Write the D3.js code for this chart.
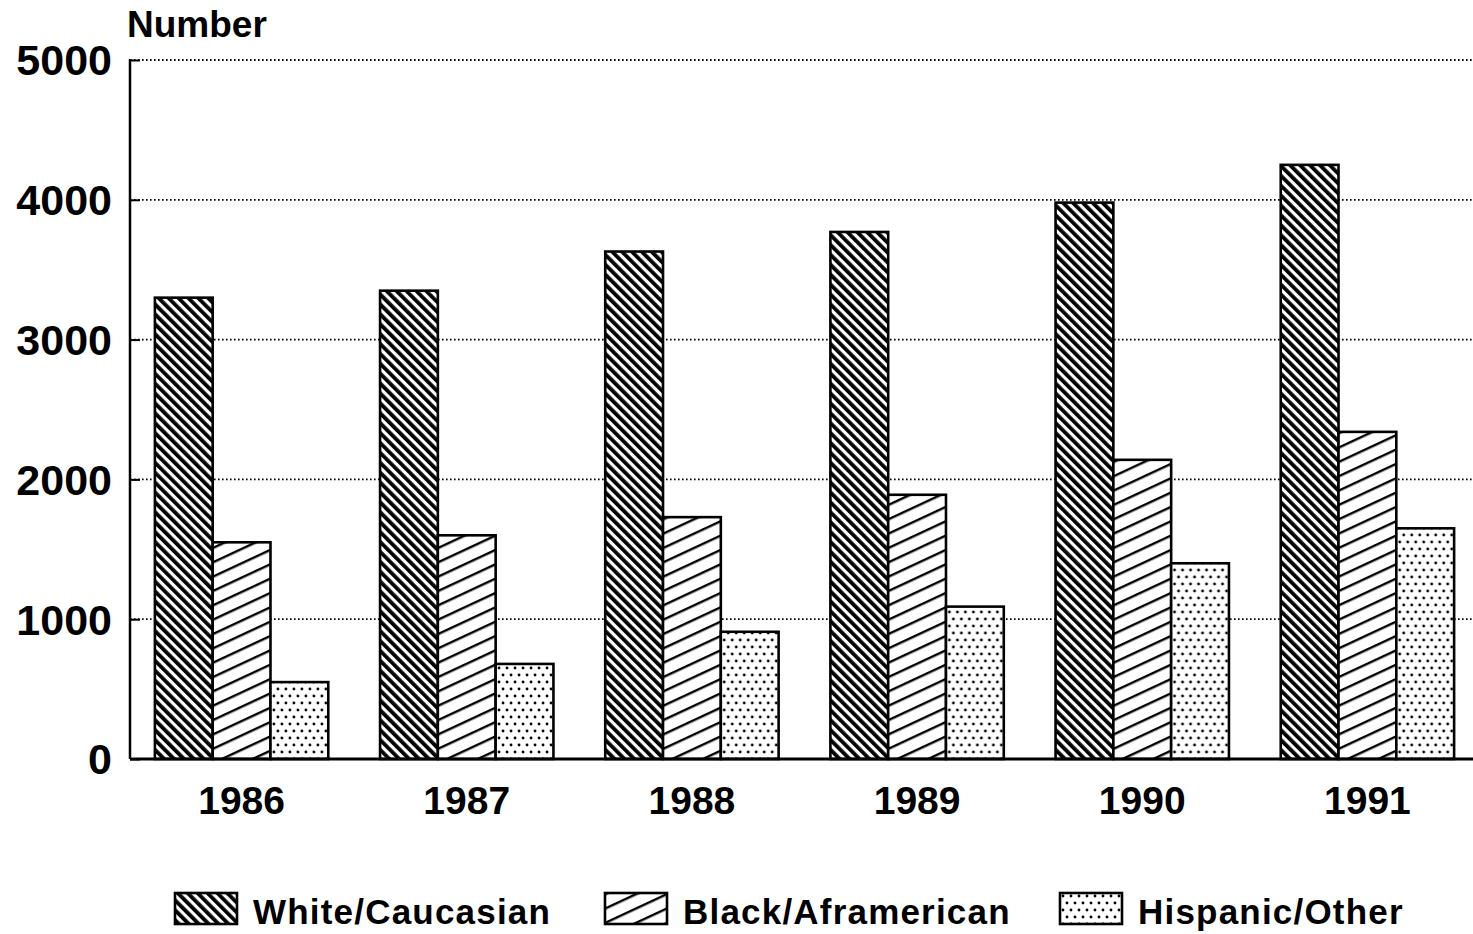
<!DOCTYPE html>
<html>
<head>
<meta charset="utf-8">
<script src="https://cdn.jsdelivr.net/npm/d3@7"></script>
<style>
  html, body { margin: 0; padding: 0; background: #fff; }
  svg { display: block; font-family: "Liberation Sans", Arial, sans-serif; font-weight: bold; }
</style>
</head>
<body>
<svg id="chart" width="1473" height="934"></svg>
<script>
// ---- data ----
const years = ["1986", "1987", "1988", "1989", "1990", "1991"];
const seriesNames = ["White/Caucasian", "Black/Aframerican", "Hispanic/Other"];
const white = [3300, 3350, 3630, 3770, 3980, 4250];
const black = [1550, 1600, 1730, 1890, 2140, 2340];
const hispanic = [550, 680, 910, 1090, 1400, 1650];
const yTicks = [0, 1000, 2000, 3000, 4000, 5000];
const yTitle = "Number";

const seriesValues = [white, black, hispanic];
const patternIds = ["patWhite", "patBlack", "patHisp"];

const svg = d3.select("#chart");
const defs = svg.append("defs");

// back-diagonal heavy hatch ("\")
const p1 = defs.append("pattern").attr("id", "patWhite").attr("patternUnits", "userSpaceOnUse")
  .attr("width", 7).attr("height", 7).attr("patternTransform", "rotate(-45)");
p1.append("rect").attr("width", 7).attr("height", 7).attr("fill", "#fff");
p1.append("rect").attr("x", 0).attr("y", 0).attr("width", 3.8).attr("height", 7).attr("fill", "#000");

// forward shallow hatch ("/")
const p2 = defs.append("pattern").attr("id", "patBlack").attr("patternUnits", "userSpaceOnUse")
  .attr("width", 13).attr("height", 13).attr("patternTransform", "rotate(-25)");
p2.append("rect").attr("width", 13).attr("height", 13).attr("fill", "#fff");
p2.append("rect").attr("x", 0).attr("y", 0).attr("width", 13).attr("height", 2.4).attr("fill", "#000");

// dots
const p3 = defs.append("pattern").attr("id", "patHisp").attr("patternUnits", "userSpaceOnUse")
  .attr("width", 16).attr("height", 14);
p3.append("rect").attr("width", 16).attr("height", 14).attr("fill", "#fff");
[[3, 3], [11, 3], [7, 10], [15, 10], [-1, 10]].forEach(([cx, cy]) => {
  p3.append("circle").attr("cx", cx).attr("cy", cy).attr("r", 1.4).attr("fill", "#000");
});

// ---- scales ----
const x0 = d3.scaleBand().domain(years).range([129, 1480]).paddingInner(0.23).paddingOuter(0.115);
const x1 = d3.scaleBand().domain(seriesNames).range([0, x0.bandwidth()]);
const y = d3.scaleLinear().domain([0, 5000]).range([759, 60]);
const plotLeft = 130, plotRight = 1473;

// gridlines (dotted)
svg.append("g").selectAll("line").data(yTicks.filter(d => d > 0)).join("line")
  .attr("x1", plotLeft).attr("x2", plotRight)
  .attr("y1", d => y(d)).attr("y2", d => y(d))
  .attr("stroke", "#000").attr("stroke-width", 1.8).attr("stroke-dasharray", "1.6,2.4");

// y axis with inward ticks
const yAxis = d3.axisRight(y).tickValues(yTicks).tickSize(10).tickFormat("");
const gy = svg.append("g").attr("transform", `translate(${plotLeft},0)`).call(yAxis);
gy.select(".domain").remove();
gy.selectAll(".tick line").attr("stroke", "#000").attr("stroke-width", 2);
svg.append("line").attr("x1", plotLeft).attr("x2", plotLeft).attr("y1", y(5000) - 1).attr("y2", y(0))
  .attr("stroke", "#000").attr("stroke-width", 2.5);

// y tick labels
svg.append("g").selectAll("text").data(yTicks).join("text")
  .attr("x", 112).attr("y", d => y(d)).attr("dy", "0.36em")
  .attr("text-anchor", "end").attr("font-size", 43).attr("fill", "#000")
  .text(d => d);

// y title
svg.append("text").attr("x", 127).attr("y", 37).attr("font-size", 37).attr("fill", "#000").text(yTitle);

// bars
const groups = svg.append("g").selectAll("g").data(years).join("g")
  .attr("transform", d => `translate(${x0(d)},0)`);
groups.selectAll("rect").data((d, i) => seriesNames.map((s, k) => ({ s, k, v: seriesValues[k][i] })))
  .join("rect")
  .attr("x", d => x1(d.s)).attr("width", x1.bandwidth())
  .attr("y", d => y(d.v)).attr("height", d => y(0) - y(d.v))
  .attr("fill", d => `url(#${patternIds[d.k]})`)
  .attr("stroke", "#000").attr("stroke-width", 2.6);

// baseline
svg.append("line").attr("x1", plotLeft).attr("x2", plotRight).attr("y1", y(0)).attr("y2", y(0))
  .attr("stroke", "#000").attr("stroke-width", 2.8);

// x labels
svg.append("g").selectAll("text").data(years).join("text")
  .attr("x", d => x0(d) + x0.bandwidth() / 2).attr("y", 814)
  .attr("text-anchor", "middle").attr("font-size", 39).attr("fill", "#000")
  .text(d => d);

// legend
const legendX = [175, 605, 1060];
const legend = svg.append("g").selectAll("g").data(seriesNames).join("g")
  .attr("transform", (d, i) => `translate(${legendX[i]},893)`);
legend.append("rect").attr("width", 62).attr("height", 31)
  .attr("fill", (d, i) => `url(#${patternIds[i]})`).attr("stroke", "#000").attr("stroke-width", 2.6);
legend.append("text").attr("x", 78).attr("y", 31).attr("font-size", 35).attr("letter-spacing", 1.2)
  .attr("fill", "#000").text(d => d);
</script>
</body>
</html>
